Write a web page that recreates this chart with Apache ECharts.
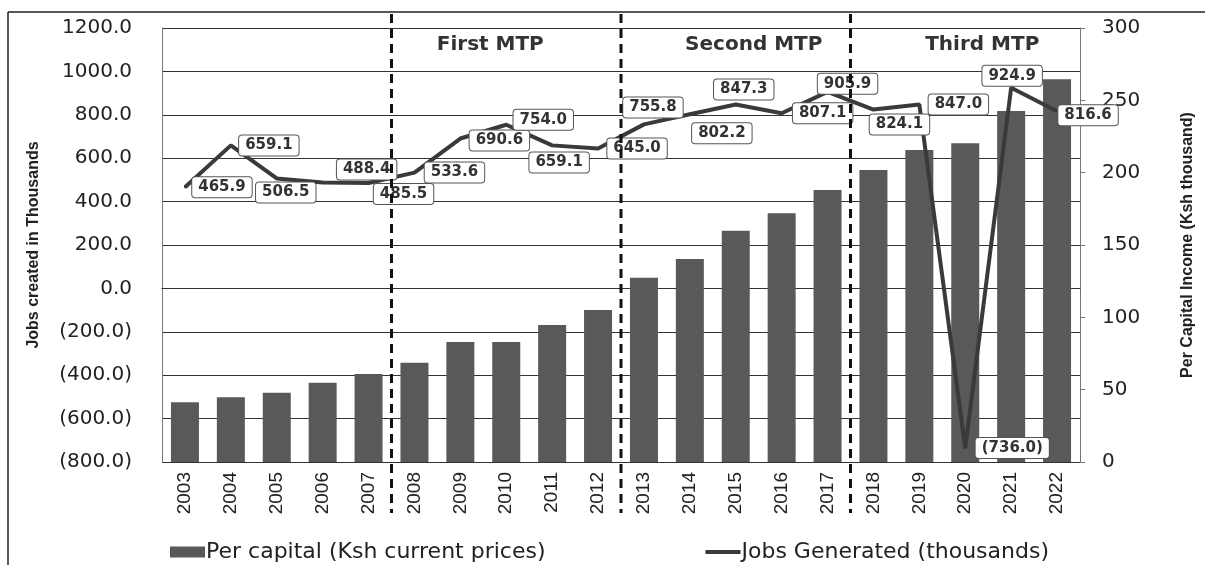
<!DOCTYPE html>
<html>
<head>
<meta charset="utf-8">
<script src="https://cdn.jsdelivr.net/npm/echarts@6/dist/echarts.min.js"></script>
<style>
  html, body { margin: 0; padding: 0; background: #fff; }
  #chart { width: 1205px; height: 565px; }
</style>
</head>
<body>
<div id="chart"></div>
<script>
// categories
const years = ['2003', '2004', '2005', '2006', '2007', '2008', '2009', '2010', '2011', '2012',
  '2013', '2014', '2015', '2016', '2017', '2018', '2019', '2020', '2021', '2022']
// per capita income, Ksh thousand (right axis)
const perCapita = [41.3, 44.7, 47.9, 54.8, 60.8, 68.6, 82.9, 82.9, 94.7, 105.1,
  127.4, 140.3, 159.9, 171.9, 188.0, 201.8, 215.7, 220.3, 242.6, 264.5]
// jobs generated, thousands (left axis)
const jobs = [465.9, 659.1, 506.5, 488.4, 485.5, 533.6, 690.6, 754.0, 659.1, 645.0,
  755.8, 802.2, 847.3, 807.1, 905.9, 824.1, 847.0, -736.0, 924.9, 816.6]
// callout box shift from its point (px)
const labelOffsets = [[37, 0], [38, 0], [9, 14], [44, -13], [35, 11], [40, 0], [39, 2], [37, -5], [7, 17], [39, 0],
  [9, -17], [32, 19], [8, -15], [41, 0], [20, -8], [26, 15], [39, 0], [47, 0], [1, -12], [31, 4]]
// plan periods: first year index of each
const periods = [
  { name: 'First MTP', start: 5, shift: -16 },
  { name: 'Second MTP', start: 10, shift: 18 },
  { name: 'Third MTP', start: 15, shift: 17 }
]

const barName = 'Per capital (Ksh current prices)'
const lineName = 'Jobs Generated (thousands)'

const fmtJobs = v => v < 0 ? '(' + Math.abs(v).toFixed(1) + ')' : v.toFixed(1)

const chart = echarts.init(document.getElementById('chart'))
const option = {
  backgroundColor: '#fff',
  animation: false,
  grid: { left: 162, right: 125, top: 28, bottom: 103 },
  legend: {
    left: 165,
    top: 536,
    itemGap: 160,
    itemWidth: 35,
    itemHeight: 11,
    textStyle: { fontFamily: 'DejaVu Sans', fontSize: 22, color: '#222', padding: [0, 0, 0, -4] },
    data: [
      { name: barName, icon: 'rect' },
      { name: lineName, icon: 'path://M0,0 L35,0 L35,4 L0,4 Z' }
    ]
  },
  xAxis: {
    type: 'category',
    data: years,
    axisLine: { lineStyle: { color: '#333', width: 1 } },
    axisTick: { show: false },
    axisLabel: { rotate: 90, margin: 10, fontFamily: 'Liberation Sans', fontSize: 19, color: '#222' }
  },
  yAxis: [
    {
      type: 'value',
      min: -800,
      max: 1200,
      interval: 200,
      name: 'Jobs created in Thousands',
      nameLocation: 'middle',
      nameGap: 120,
      nameTextStyle: { fontFamily: 'Liberation Sans', fontWeight: 'bold', fontSize: 16, color: '#222' },
      axisLine: { show: true, lineStyle: { color: '#777' } },
      axisTick: { show: false },
      axisLabel: { formatter: fmtJobs, margin: 30, fontFamily: 'DejaVu Sans', fontSize: 20, color: '#222' },
      splitLine: { lineStyle: { color: '#333', width: 1 } }
    },
    {
      type: 'value',
      min: 0,
      max: 300,
      interval: 50,
      name: 'Per Capital Income (Ksh thousand)',
      nameLocation: 'middle',
      nameGap: 100,
      nameRotate: 90,
      nameTextStyle: { fontFamily: 'Liberation Sans', fontWeight: 'bold', fontSize: 16, color: '#222' },
      axisLine: { show: true, lineStyle: { color: '#777' } },
      axisTick: { show: true, length: 5, lineStyle: { color: '#777' } },
      axisLabel: { margin: 22, fontFamily: 'DejaVu Sans', fontSize: 20, color: '#222' },
      splitLine: { show: false }
    }
  ],
  series: [
    {
      name: barName,
      type: 'bar',
      yAxisIndex: 1,
      barWidth: 28,
      itemStyle: { color: '#59595b' },
      data: perCapita
    },
    {
      name: lineName,
      type: 'line',
      yAxisIndex: 0,
      symbol: 'circle',
      symbolSize: 2,
      itemStyle: { color: '#3a3a3a' },
      lineStyle: { color: '#3a3a3a', width: 4 },
      z: 5,
      label: {
        show: true,
        position: 'inside',
        formatter: p => fmtJobs(p.value),
        fontFamily: 'DejaVu Sans',
        fontWeight: 'bold',
        fontSize: 15,
        color: '#333',
        backgroundColor: '#fff',
        borderColor: '#555',
        borderWidth: 1,
        borderRadius: 3,
        padding: [3, 6, 2, 6]
      },
      data: jobs.map((v, i) => ({ value: v, label: { offset: labelOffsets[i] } }))
    }
  ]
}
chart.setOption(option)

// 期间分隔线和标题
const xAt = i => chart.convertToPixel({ xAxisIndex: 0 }, i)
const graphic = [
  { type: 'line', shape: { x1: 8, y1: 12, x2: 1205, y2: 12 }, style: { stroke: '#222', lineWidth: 1.5 } },
  { type: 'line', shape: { x1: 8, y1: 12, x2: 8, y2: 565 }, style: { stroke: '#222', lineWidth: 1.5 } }
]
periods.forEach(p => {
  const bx = (xAt(p.start - 1) + xAt(p.start)) / 2
  const cx = (xAt(p.start) + xAt(p.start + 4)) / 2 + p.shift
  graphic.push({
    type: 'line',
    z: 10,
    shape: { x1: bx, y1: 14, x2: bx, y2: 513 },
    style: { stroke: '#111', lineWidth: 3, lineDash: [9, 6] }
  })
  graphic.push({
    type: 'text',
    z: 10,
    x: cx,
    y: 45,
    style: {
      text: p.name,
      fontFamily: 'DejaVu Sans',
      fontWeight: 'bold',
      fontSize: 20,
      fill: '#333',
      align: 'center',
      verticalAlign: 'middle'
    }
  })
})
chart.setOption({ graphic })
</script>
</body>
</html>
